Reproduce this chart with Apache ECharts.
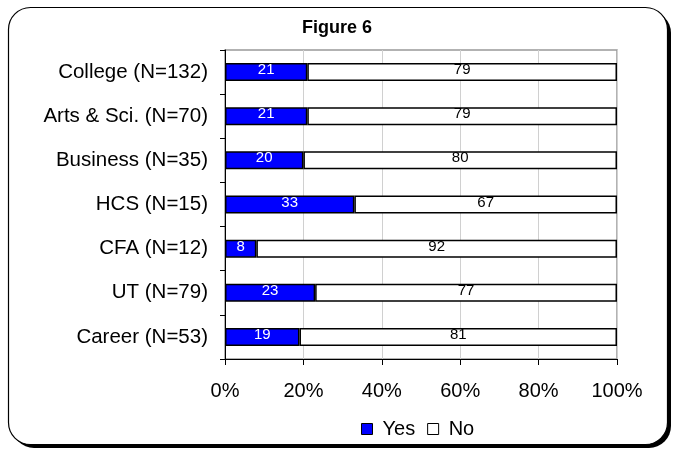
<!DOCTYPE html>
<html>
<head>
<meta charset="utf-8">
<script src="https://cdn.jsdelivr.net/npm/echarts@6/dist/echarts.min.js"></script>
<style>
  html, body { margin: 0; padding: 0; background: #fff; }
  #chart { width: 674px; height: 453px; }
</style>
</head>
<body>
<div id="chart"></div>
<script>
// Share of respondents answering Yes / No, by group (percent)
const categories = ['College (N=132)', 'Arts & Sci. (N=70)', 'Business (N=35)', 'HCS (N=15)', 'CFA (N=12)', 'UT (N=79)', 'Career (N=53)'];
const yesValues = [21, 21, 20, 33, 8, 23, 19];
const noValues = [79, 79, 80, 67, 92, 77, 81];
const seriesNames = ['Yes', 'No'];
const titleText = 'Figure 6';

const FONT = 'Liberation Sans, Arial, sans-serif';

const chart = echarts.init(document.getElementById('chart'), null, { renderer: 'canvas' });

// categories listed top to bottom, so the category axis is inverted
chart.setOption({
  animation: false,
  backgroundColor: '#fff',
  title: {
    text: titleText,
    left: 'center', top: 19, padding: 0,
    textStyle: { fontFamily: FONT, fontSize: 18, fontWeight: 'bold', color: '#000' }
  },
  graphic: [{
    // drop shadow of the frame
    type: 'rect', z: -11, silent: true,
    shape: { x: 12, y: 11, width: 659, height: 437, r: 22 },
    style: { fill: '#000' }
  }, {
    // rounded frame
    type: 'rect', z: -10, silent: true,
    shape: { x: 8.5, y: 7.5, width: 659, height: 437, r: 22 },
    style: { fill: '#fff', stroke: '#000', lineWidth: 1.2 }
  }, {
    // plot area outline
    type: 'rect', z: -9, silent: true,
    shape: { x: 225, y: 50, width: 392, height: 309 },
    style: { fill: 'none', stroke: '#999', lineWidth: 1.5 }
  }],
  legend: {
    data: seriesNames,
    left: 361, top: 419, padding: 0,
    itemWidth: 11, itemHeight: 11, itemGap: 12,
    icon: 'rect',
    itemStyle: { borderColor: '#000', borderWidth: 1 },
    textStyle: { fontFamily: FONT, fontSize: 20, lineHeight: 20, color: '#000', padding: [0, 0, 0, 5] }
  },
  grid: { left: 225, top: 50, width: 392, height: 309, containLabel: false },
  xAxis: {
    type: 'value', min: 0, max: 100, interval: 20,
    axisLine: { show: true, lineStyle: { color: '#000', width: 1 } },
    axisTick: { show: true, length: 6, lineStyle: { color: '#000' } },
    axisLabel: { formatter: '{value}%', fontFamily: FONT, fontSize: 20, color: '#000', margin: 22 },
    splitLine: { show: true, lineStyle: { color: '#d0d0d0', width: 1 } }
  },
  yAxis: {
    type: 'category', data: categories, inverse: true,
    axisLine: { show: true, lineStyle: { color: '#000', width: 1 } },
    axisTick: { show: true, length: 5, lineStyle: { color: '#000' } },
    axisLabel: { fontFamily: FONT, fontSize: 20.5, color: '#000', margin: 17 }
  },
  series: [{
    name: seriesNames[0], type: 'bar', stack: 'total', data: yesValues,
    barWidth: 18,
    itemStyle: { color: '#0000ff', borderColor: '#000', borderWidth: 1.5 },
    label: { show: true, position: 'inside', offset: [0, -2], color: '#fff',
      fontFamily: FONT, fontSize: 15 }
  }, {
    name: seriesNames[1], type: 'bar', stack: 'total', data: noValues,
    barWidth: 18,
    itemStyle: { color: '#fff', borderColor: '#000', borderWidth: 1.5 },
    label: { show: true, position: 'inside', offset: [0, -2], color: '#000',
      fontFamily: FONT, fontSize: 15 }
  }]
});
</script>
</body>
</html>
